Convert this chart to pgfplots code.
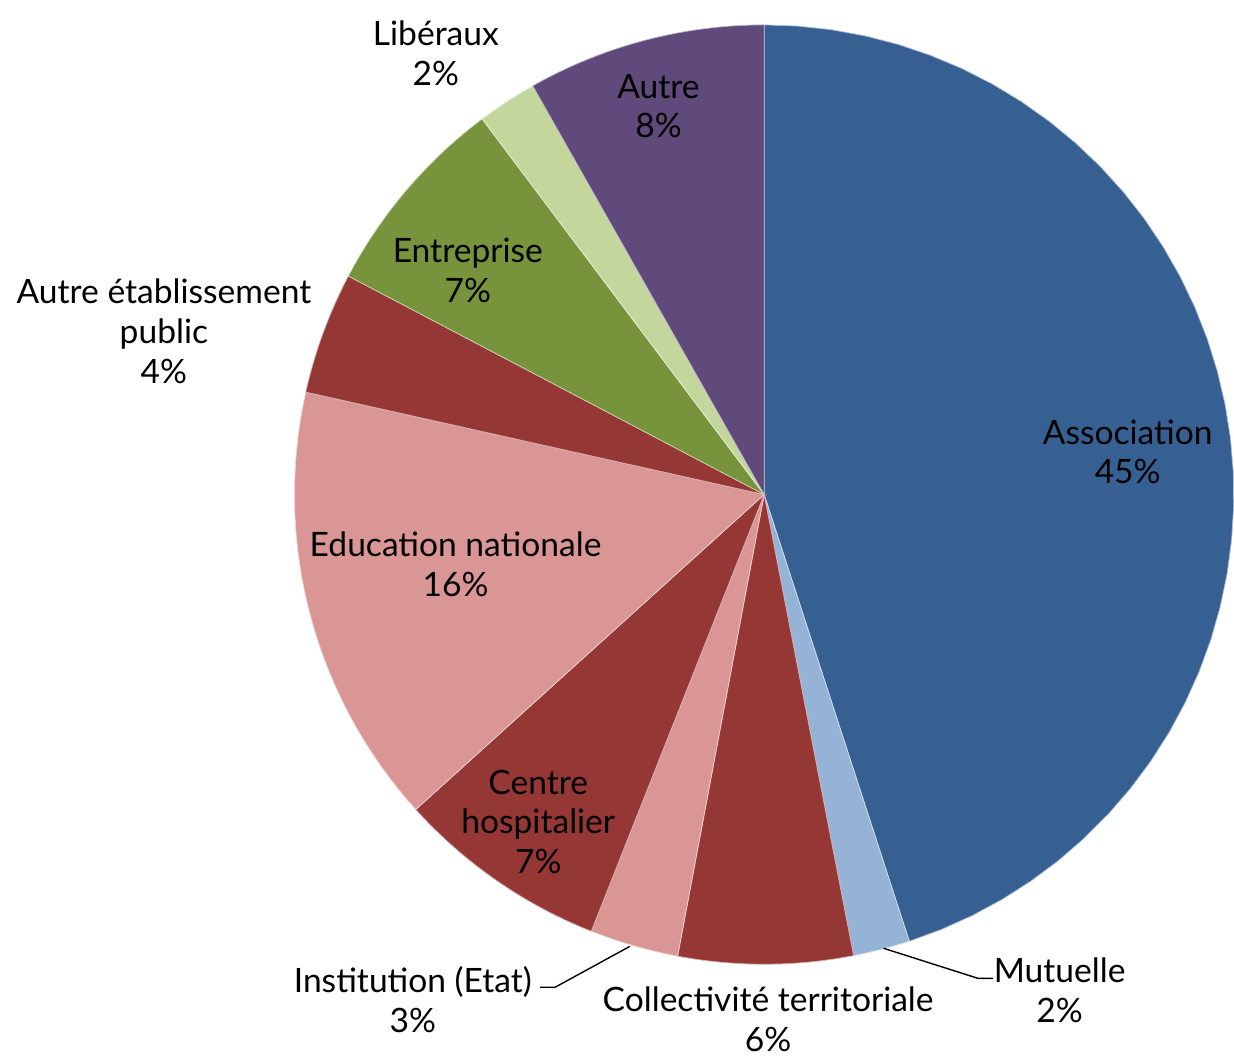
\documentclass[border=0pt]{standalone}
\usepackage{pgfplots}
\usepackage{pgfplotstable}
\usepackage{fontspec}
\setmainfont{Lato}
\pgfplotsset{compat=1.18}

\definecolor{cAsso}{HTML}{376092}
\definecolor{cMut}{HTML}{95B3D7}
\definecolor{cRed}{HTML}{953735}
\definecolor{cPink}{HTML}{D99694}
\definecolor{cGreen}{HTML}{77933C}
\definecolor{cLgreen}{HTML}{C3D69B}
\definecolor{cPurple}{HTML}{604A7B}

% parts clockwise from 12 o'clock
\pgfplotstableread[col sep=comma]{
value,col
45.0,cAsso
1.95,cMut
6.0,cRed
3.05,cPink
7.3,cRed
15.2,cPink
4.2,cRed
7.05,cGreen
2.05,cLgreen
8.2,cPurple
}\piedata

\begin{document}
\begin{tikzpicture}
\begin{axis}[
    width=12.34cm, height=10.64cm, scale only axis,
    hide axis, clip=false,
    axis equal image,
    xmin=-1.627, xmax=0.987,
    ymin=-1.201, ymax=1.053,
    font=\fontsize{9.6}{11.4}\selectfont,
]
\path (rel axis cs:0,0) rectangle (rel axis cs:1,1);
\pgfplotsextra{
  \def\cum{0}
  \pgfplotsforeachungrouped \i in {0,...,9}{
    \pgfplotstablegetelem{\i}{value}\of\piedata \let\sliceval=\pgfplotsretval
    \pgfplotstablegetelem{\i}{col}\of\piedata \let\slicecol=\pgfplotsretval
    \pgfmathsetmacro\angA{90-3.6*\cum}
    \pgfmathsetmacro\angB{90-3.6*(\cum+\sliceval)}
    \fill[\slicecol, draw=white!60!\slicecol, line width=0.2pt]
      (axis cs:0,0) -- plot[domain=\angA:\angB, samples=40] (axis cs:{cos(\x)},{sin(\x)}) -- cycle;
    \pgfmathsetmacro\cum{\cum+\sliceval}
  }
}
\node[align=center] at (axis cs:0.774,0.091) {Association\\45\%};
\node[align=center] at (axis cs:0.629,-1.056) {Mutuelle\\2\%};
\node[align=center] at (axis cs:0.0085,-1.118) {Collectivité territoriale\\6\%};
\node[align=center] at (axis cs:-0.748,-1.076) {Institution (Etat)\\3\%};
\node[align=center] at (axis cs:-0.481,-0.697) {Centre\\hospitalier\\7\%};
\node[align=center] at (axis cs:-0.657,-0.148) {Education nationale\\16\%};
\node[align=center] at (axis cs:-1.278,0.348) {Autre établissement\\public\\4\%};
\node[align=center] at (axis cs:-0.631,0.477) {Entreprise\\7\%};
\node[align=center] at (axis cs:-0.699,0.939) {Libéraux\\2\%};
\node[align=center] at (axis cs:-0.225,0.827) {Autre\\8\%};
\draw[black, line width=0.4pt] (axis cs:-0.477,-1.049) -- (axis cs:-0.445,-1.049) -- (axis cs:-0.286,-0.962);
\draw[black, line width=0.4pt] (axis cs:0.254,-0.966) -- (axis cs:0.455,-1.030) -- (axis cs:0.487,-1.030);
\end{axis}
\end{tikzpicture}
\end{document}
